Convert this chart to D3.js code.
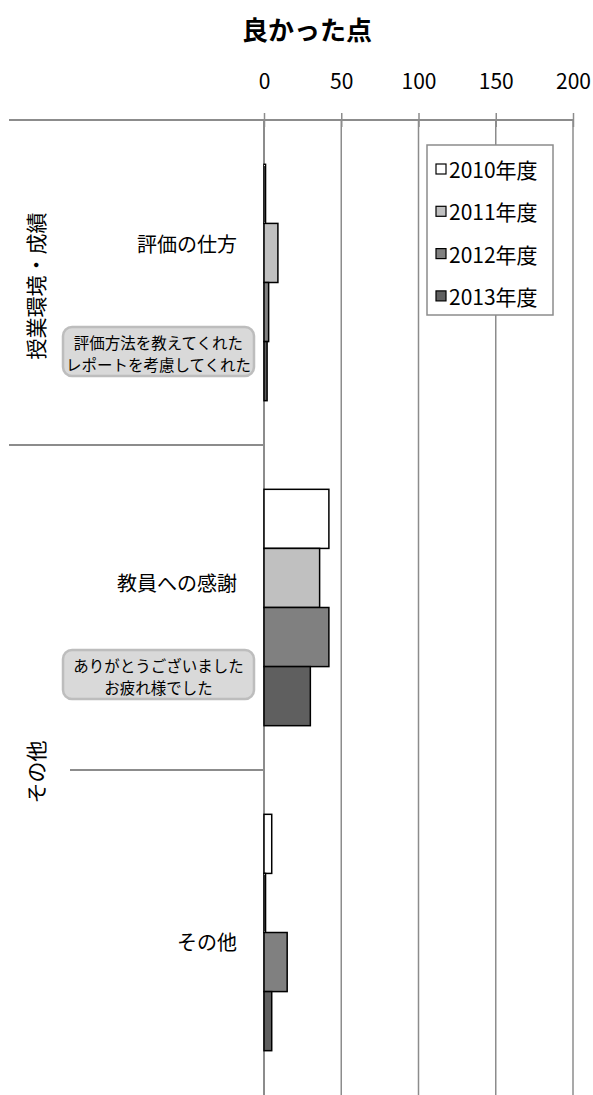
<!DOCTYPE html>
<html lang="ja">
<head>
<meta charset="utf-8">
<title>良かった点</title>
<script src="https://d3js.org/d3.v7.min.js"></script>
<style>
    body { margin: 0; background: #fff; }
    svg { display: block; font-family: "Noto Sans CJK JP", "Noto Sans", sans-serif; }
</style>
</head>
<body>
<div id="chart"></div>
<script>
// data
var title = "良かった点";
var categories = ["評価の仕方", "教員への感謝", "その他"];
var groups = [
    { name: "授業環境・成績", items: ["評価の仕方"] },
    { name: "その他", items: ["教員への感謝", "その他"] }
];
var seriesNames = ["2010年度", "2011年度", "2012年度", "2013年度"];
var v2010 = [1, 42, 5];
var v2011 = [9, 36, 1];
var v2012 = [3, 42, 15];
var v2013 = [2, 30, 5];
var ticks = [0, 50, 100, 150, 200];
var notes = [
    ["評価方法を教えてくれた", "レポートを考慮してくれた"],
    ["ありがとうございました", "お疲れ様でした"]
];

var width = 593, height = 1095;
var colors = ["#ffffff", "#c0c0c0", "#808080", "#5f5f5f"];
var grid = "#8c8c8c";

var values = [v2010, v2011, v2012, v2013];

var svg = d3.select("#chart").append("svg")
    .attr("width", width)
    .attr("height", height);

var x = d3.scaleLinear().domain([0, 200]).range([264, 573]);
var y = d3.scaleBand().domain(categories).range([120, 1095]);
var ys = d3.scaleBand().domain(seriesNames).range([0, y.bandwidth()])
    .paddingInner(0).paddingOuter(0.75);

// title
svg.append("text")
    .attr("x", 307).attr("y", 40)
    .attr("text-anchor", "middle")
    .style("font-size", "26px").style("font-weight", "bold")
    .text(title);

// gridlines
svg.append("g").selectAll("line")
    .data(ticks)
    .enter().append("line")
    .attr("x1", d => x(d)).attr("x2", d => x(d))
    .attr("y1", 120).attr("y2", height)
    .attr("stroke", grid)
    .attr("stroke-width", d => d === 0 ? 2 : 1.5);

// top axis
var axis = svg.append("g").attr("transform", "translate(0,120)")
    .call(d3.axisTop(x).tickValues(ticks).tickSize(7).tickPadding(24));
axis.select(".domain").remove();
axis.selectAll(".tick line").attr("stroke", grid).attr("stroke-width", 1.5)
    .attr("y2", 7).attr("y1", -7);
axis.selectAll(".tick text").style("font-size", "21px").attr("fill", "#000")
    .attr("font-family", "\"Noto Sans CJK JP\", sans-serif");
svg.append("line")
    .attr("x1", 9).attr("x2", x(200))
    .attr("y1", 120).attr("y2", 120)
    .attr("stroke", grid).attr("stroke-width", 2);

// bars
var series = svg.append("g").selectAll("g")
    .data(seriesNames)
    .enter().append("g")
    .attr("fill", (d, i) => colors[i]);
series.selectAll("rect")
    .data((s, i) => categories.map((c, j) => ({ cat: c, s: s, v: values[i][j] })))
    .enter().append("rect")
    .attr("x", x(0))
    .attr("y", d => y(d.cat) + ys(d.s))
    .attr("width", d => x(d.v) - x(0))
    .attr("height", ys.bandwidth())
    .attr("stroke", "#000")
    .attr("stroke-width", 1.5);

// category separators (outer level full width, inner level shorter)
var bounds = [];
groups.forEach(function (g, gi) {
    g.items.forEach(function (it, ii) {
        if (gi > 0 && ii === 0) bounds.push({ y: y(it), x0: 9 });
        else if (ii > 0) bounds.push({ y: y(it), x0: 70 });
    });
});
svg.append("g").selectAll("line")
    .data(bounds)
    .enter().append("line")
    .attr("x1", d => d.x0).attr("x2", x(0))
    .attr("y1", d => d.y).attr("y2", d => d.y)
    .attr("stroke", grid).attr("stroke-width", 2);

// inner category labels
var labelShift = [-39, -25, 9];
svg.append("g").selectAll("text")
    .data(categories)
    .enter().append("text")
    .attr("x", 237)
    .attr("y", (d, i) => y(d) + y.bandwidth() / 2 + labelShift[i])
    .attr("text-anchor", "end")
    .attr("dominant-baseline", "central")
    .style("font-size", "20px")
    .text(d => d);

// outer group labels (rotated)
var groupCenter = [286, 772];
svg.append("g").selectAll("text")
    .data(groups)
    .enter().append("text")
    .attr("transform", (d, i) => "translate(35," + groupCenter[i] + ") rotate(-90)")
    .attr("text-anchor", "middle")
    .attr("dominant-baseline", "central")
    .style("font-size", "21px")
    .text(d => d.name);

// callout boxes
var noteTop = [327, 650];
var note = svg.append("g").selectAll("g")
    .data(notes)
    .enter().append("g")
    .attr("transform", (d, i) => "translate(63," + noteTop[i] + ")");
note.append("rect")
    .attr("width", 191).attr("height", 49)
    .attr("rx", 9).attr("ry", 9)
    .attr("fill", "#d9d9d9")
    .attr("stroke", "#bdbdbd").attr("stroke-width", 2.5);
note.selectAll("text")
    .data(d => d)
    .enter().append("text")
    .attr("x", 95.5)
    .attr("y", (d, i) => 15 + i * 22)
    .attr("text-anchor", "middle")
    .attr("dominant-baseline", "central")
    .style("font-size", "15.5px")
    .text(d => d);

// legend
var legend = svg.append("g").attr("transform", "translate(427,145)");
legend.append("rect")
    .attr("width", 126).attr("height", 170)
    .attr("fill", "#fff")
    .attr("stroke", grid).attr("stroke-width", 1.5);
var item = legend.selectAll("g")
    .data(seriesNames)
    .enter().append("g")
    .attr("transform", (d, i) => "translate(0," + (24 + i * 42.3) + ")");
item.append("rect")
    .attr("x", 9).attr("y", -5)
    .attr("width", 10).attr("height", 10)
    .attr("fill", (d, i) => colors[i])
    .attr("stroke", "#000").attr("stroke-width", 1.2);
item.append("text")
    .attr("x", 22)
    .attr("dominant-baseline", "central")
    .style("font-size", "21px")
    .text(d => d);
</script>
</body>
</html>
